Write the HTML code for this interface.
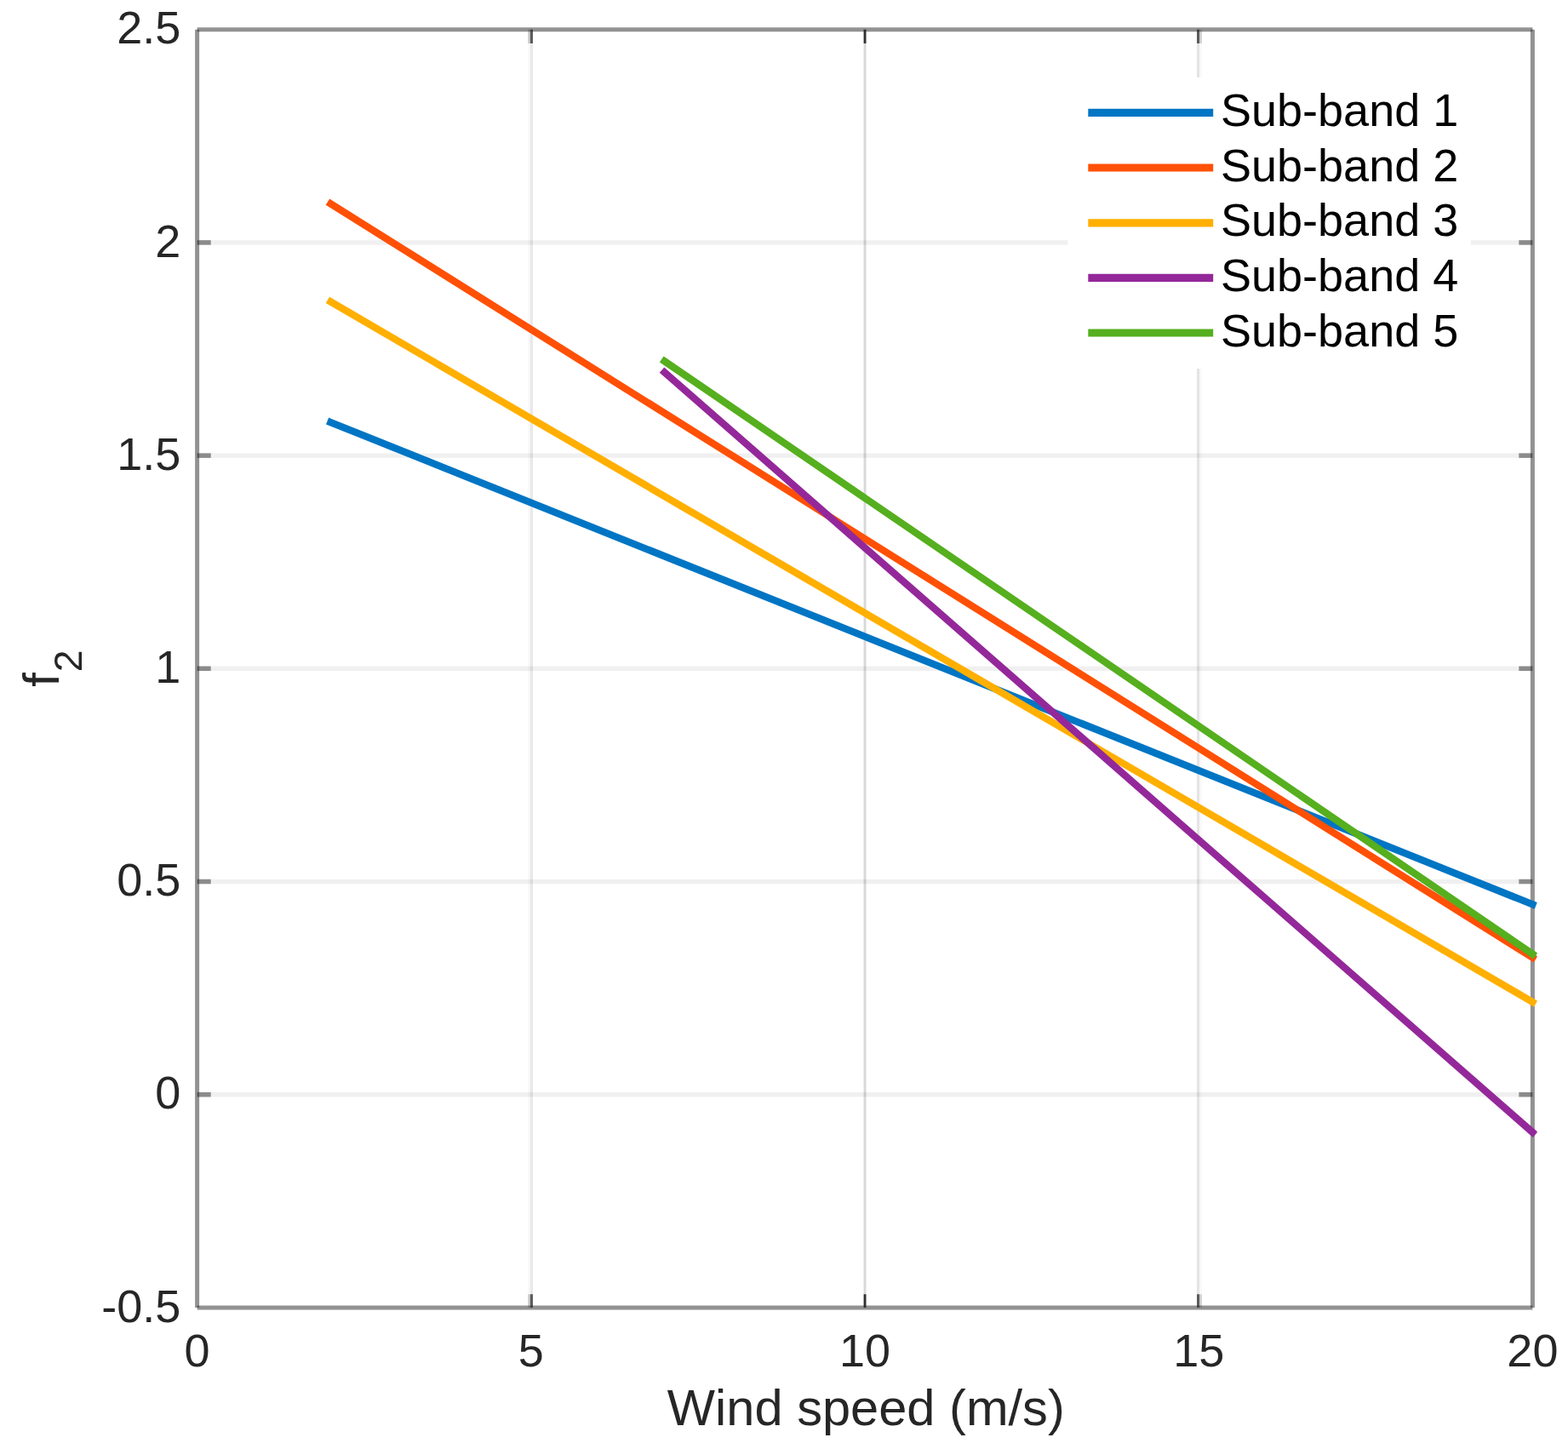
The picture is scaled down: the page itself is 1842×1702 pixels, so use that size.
<!DOCTYPE html>
<html lang="en"><head><meta charset="utf-8"><title>f2 vs wind speed</title>
<style>html,body{margin:0;padding:0;background:#fff;}body{width:1842px;height:1702px;overflow:hidden;}svg{display:block;}text{font-family:"Liberation Sans",Helvetica,Arial,sans-serif;}</style>
</head><body>
<svg width="1842" height="1702" viewBox="0 0 1842 1702">
<rect x="0" y="0" width="1842" height="1702" fill="#ffffff"/>
<g>
<rect x="620.30" y="34.70" width="2.60" height="1501.20" fill="rgba(38,38,38,0.032)"/>
<rect x="622.90" y="34.70" width="3.10" height="1501.20" fill="rgba(38,38,38,0.106)"/>
<rect x="1013.90" y="34.70" width="0.90" height="1501.20" fill="rgba(38,38,38,0.04)"/>
<rect x="1014.80" y="34.70" width="2.50" height="1501.20" fill="rgba(38,38,38,0.18)"/>
<rect x="1017.30" y="34.70" width="0.90" height="1501.20" fill="rgba(38,38,38,0.04)"/>
<rect x="1406.00" y="34.70" width="3.00" height="1501.20" fill="rgba(38,38,38,0.124)"/>
<rect x="1409.00" y="34.70" width="2.80" height="1501.20" fill="rgba(38,38,38,0.032)"/>
<rect x="231.60" y="1283.00" width="1568.80" height="5.4" fill="rgba(38,38,38,0.072)"/>
<rect x="231.60" y="1032.80" width="1568.80" height="5.4" fill="rgba(38,38,38,0.072)"/>
<rect x="231.60" y="782.60" width="1568.80" height="5.4" fill="rgba(38,38,38,0.072)"/>
<rect x="231.60" y="532.40" width="1568.80" height="5.4" fill="rgba(38,38,38,0.072)"/>
<rect x="231.60" y="282.20" width="1568.80" height="5.4" fill="rgba(38,38,38,0.072)"/>
</g>
<g stroke="rgba(38,38,38,0.5)" stroke-width="5" fill="none">
<line x1="231.60" y1="34.70" x2="231.60" y2="1535.90"/>
<line x1="1800.40" y1="34.70" x2="1800.40" y2="1535.90"/>
<line x1="231.60" y1="34.70" x2="1800.40" y2="34.70"/>
<line x1="231.60" y1="1535.90" x2="1800.40" y2="1535.90"/>
</g>
<g>
<rect x="620.30" y="1520.21" width="2.60" height="15.69" fill="rgba(38,38,38,0.22)"/>
<rect x="620.30" y="34.70" width="2.60" height="16.29" fill="rgba(38,38,38,0.22)"/>
<rect x="622.90" y="1520.21" width="3.10" height="15.69" fill="rgba(38,38,38,0.72)"/>
<rect x="622.90" y="34.70" width="3.10" height="16.29" fill="rgba(38,38,38,0.72)"/>
<rect x="1013.90" y="1520.21" width="0.90" height="15.69" fill="rgba(38,38,38,0.2)"/>
<rect x="1013.90" y="34.70" width="0.90" height="16.29" fill="rgba(38,38,38,0.2)"/>
<rect x="1014.80" y="1520.21" width="2.50" height="15.69" fill="rgba(38,38,38,0.95)"/>
<rect x="1014.80" y="34.70" width="2.50" height="16.29" fill="rgba(38,38,38,0.95)"/>
<rect x="1017.30" y="1520.21" width="0.90" height="15.69" fill="rgba(38,38,38,0.2)"/>
<rect x="1017.30" y="34.70" width="0.90" height="16.29" fill="rgba(38,38,38,0.2)"/>
<rect x="1406.00" y="1520.21" width="3.00" height="15.69" fill="rgba(38,38,38,0.72)"/>
<rect x="1406.00" y="34.70" width="3.00" height="16.29" fill="rgba(38,38,38,0.72)"/>
<rect x="1409.00" y="1520.21" width="2.80" height="15.69" fill="rgba(38,38,38,0.2)"/>
<rect x="1409.00" y="34.70" width="2.80" height="16.29" fill="rgba(38,38,38,0.2)"/>
<rect x="231.60" y="1282.95" width="16.09" height="5.5" fill="rgba(38,38,38,0.5)"/>
<rect x="1784.31" y="1282.95" width="16.09" height="5.5" fill="rgba(38,38,38,0.5)"/>
<rect x="231.60" y="1032.75" width="16.09" height="5.5" fill="rgba(38,38,38,0.5)"/>
<rect x="1784.31" y="1032.75" width="16.09" height="5.5" fill="rgba(38,38,38,0.5)"/>
<rect x="231.60" y="782.55" width="16.09" height="5.5" fill="rgba(38,38,38,0.5)"/>
<rect x="1784.31" y="782.55" width="16.09" height="5.5" fill="rgba(38,38,38,0.5)"/>
<rect x="231.60" y="532.35" width="16.09" height="5.5" fill="rgba(38,38,38,0.5)"/>
<rect x="1784.31" y="532.35" width="16.09" height="5.5" fill="rgba(38,38,38,0.5)"/>
<rect x="231.60" y="282.15" width="16.09" height="5.5" fill="rgba(38,38,38,0.5)"/>
<rect x="1784.31" y="282.15" width="16.09" height="5.5" fill="rgba(38,38,38,0.5)"/>
</g>
<clipPath id="dataclip"><rect x="0" y="0" width="1805.8" height="1702"/></clipPath>
<g fill="none" stroke-width="8.4" stroke-linecap="square" clip-path="url(#dataclip)">
<line x1="388.48" y1="496.07" x2="1800.40" y2="1062.32" stroke="#0075C4"/>
<line x1="388.48" y1="239.36" x2="1800.40" y2="1124.72" stroke="#FF5006"/>
<line x1="388.48" y1="354.46" x2="1800.40" y2="1177.01" stroke="#FFAF00"/>
<line x1="780.68" y1="437.32" x2="1800.40" y2="1329.99" stroke="#94289A"/>
<line x1="780.68" y1="424.31" x2="1800.40" y2="1120.57" stroke="#55AF1E"/>
</g>
<rect x="1254.4" y="91" width="473.6" height="342" fill="#ffffff"/>
<g fill="none" stroke-width="9.2">
<line x1="1278.3" y1="132.30" x2="1425.2" y2="132.30" stroke="#0075C4"/>
<line x1="1278.3" y1="197.00" x2="1425.2" y2="197.00" stroke="#FF5006"/>
<line x1="1278.3" y1="261.80" x2="1425.2" y2="261.80" stroke="#FFAF00"/>
<line x1="1278.3" y1="326.40" x2="1425.2" y2="326.40" stroke="#94289A"/>
<line x1="1278.3" y1="391.00" x2="1425.2" y2="391.00" stroke="#55AF1E"/>
</g>
<g font-size="54" fill="#000000">
<text x="1434.0" y="148.00">Sub-band 1</text>
<text x="1434.0" y="212.70">Sub-band 2</text>
<text x="1434.0" y="277.40">Sub-band 3</text>
<text x="1434.0" y="342.10">Sub-band 4</text>
<text x="1434.0" y="406.80">Sub-band 5</text>
</g>
<g font-size="54" fill="#262626">
<text x="212.3" y="51.30" text-anchor="end">2.5</text>
<text x="212.3" y="301.50" text-anchor="end">2</text>
<text x="212.3" y="551.70" text-anchor="end">1.5</text>
<text x="212.3" y="801.90" text-anchor="end">1</text>
<text x="212.3" y="1052.10" text-anchor="end">0.5</text>
<text x="212.3" y="1302.30" text-anchor="end">0</text>
<text x="212.3" y="1552.50" text-anchor="end">-0.5</text>
<text x="231.60" y="1604.5" text-anchor="middle">0</text>
<text x="623.80" y="1604.5" text-anchor="middle">5</text>
<text x="1016.00" y="1604.5" text-anchor="middle">10</text>
<text x="1408.20" y="1604.5" text-anchor="middle">15</text>
<text x="1800.40" y="1604.5" text-anchor="middle">20</text>
</g>
<text x="1017.3" y="1674.0" font-size="59.6" fill="#262626" text-anchor="middle">Wind speed (m/s)</text>
<text transform="translate(68.5 806.8) rotate(-90)" font-size="59.6" fill="#262626">f<tspan font-size="46.5" dx="1.0" dy="27.4">2</tspan></text>
</svg>
</body></html>
